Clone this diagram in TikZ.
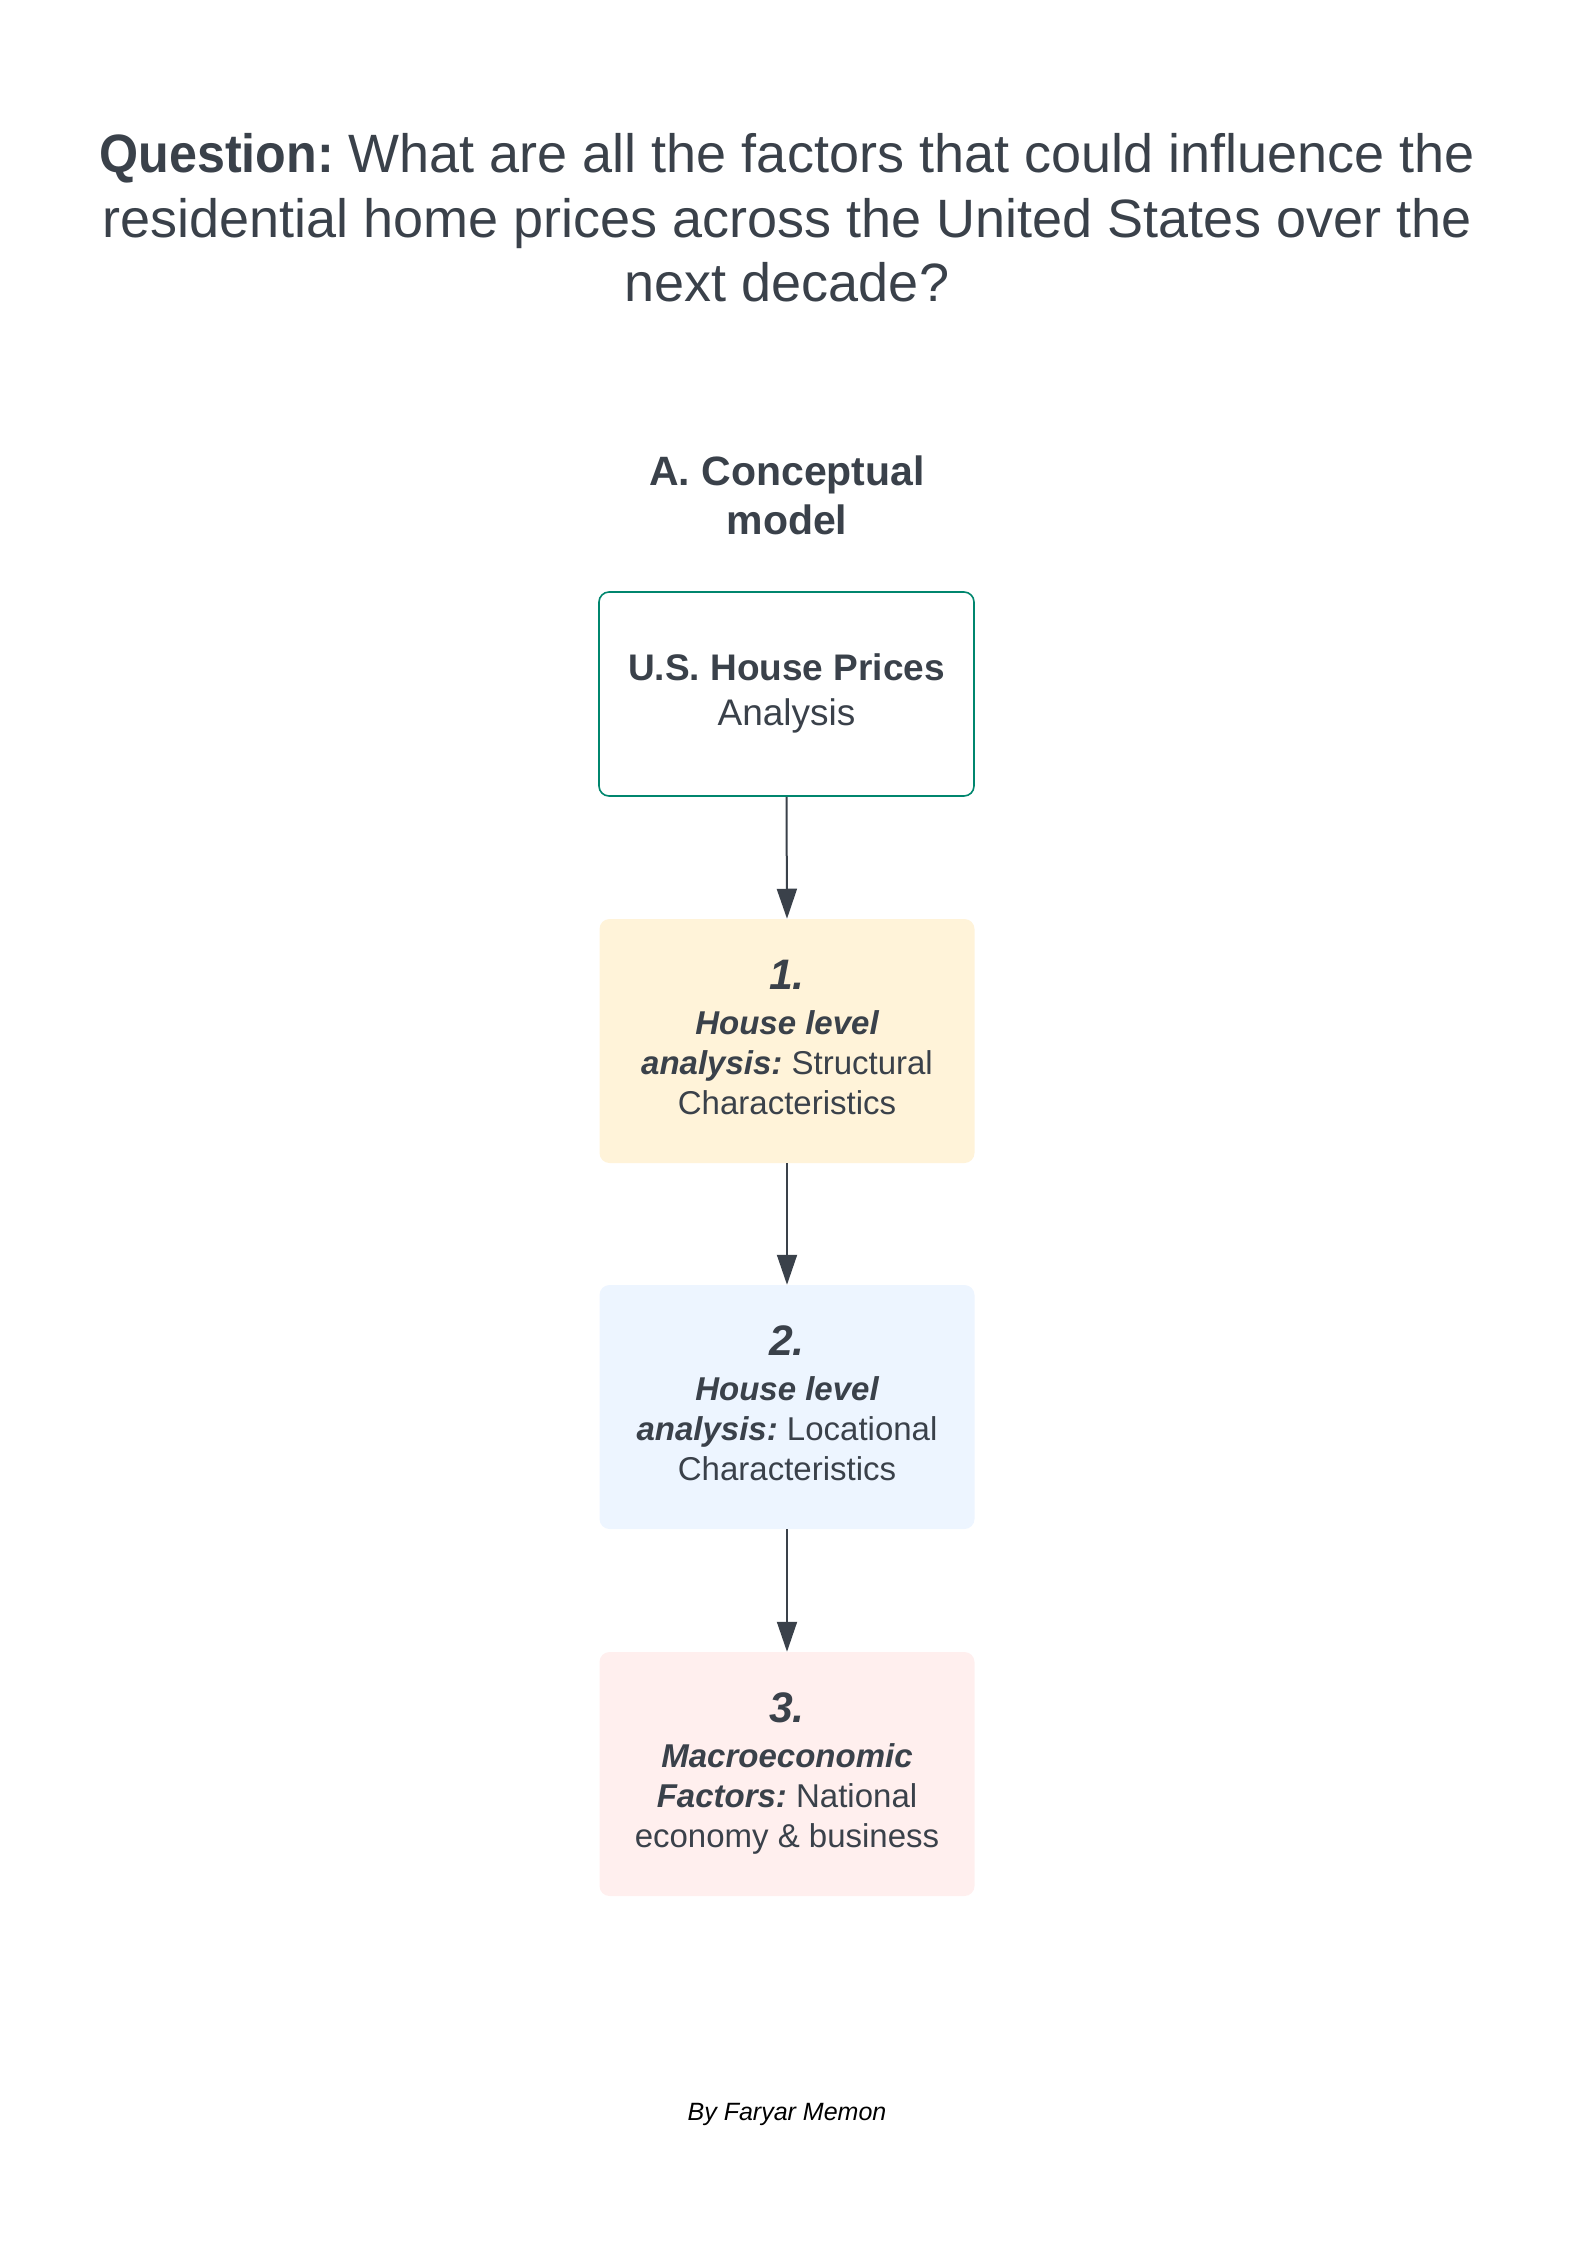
\documentclass[tikz,border=0pt]{standalone}
\usepackage{fontspec}
\setmainfont{Liberation Sans}
\usetikzlibrary{arrows.meta}
\frenchspacing
\definecolor{txt}{HTML}{3A414A}
\definecolor{tealb}{HTML}{00866E}
\definecolor{yelf}{HTML}{FFF3D9}
\definecolor{bluf}{HTML}{EDF5FF}
\definecolor{pinf}{HTML}{FFEFEE}
\tikzset{
  px/.style={x=0.75pt,y=-0.75pt},
  box/.style={rounded corners=7.5pt, minimum width=281.25pt, minimum height=183pt,
    inner sep=0pt, align=center, text=txt},
  stagebox/.style={box, draw=none, font=\fontsize{24.75}{30}\selectfont},
  conn/.style={draw=txt, line width=1.5pt, -{Triangle[length=22.5pt,width=15pt]}},
}
\newcommand{\stagenum}[1]{{\fontsize{32}{30}\selectfont\bfseries\itshape #1}\\[3.75pt]}
\newcommand{\bi}[1]{{\bfseries\itshape #1}}
\begin{document}
\frenchspacing
\begin{tikzpicture}[px]
\useasboundingbox (0,0) rectangle (1575,2250);
\node[text=txt, align=center, font=\fontsize{40.5}{48.5}\selectfont\frenchspacing] (title) at (787,218)
  {{\bfseries\addfontfeatures{FakeStretch=0.93}Question:} What are all the factors that could influence the\\
   residential home prices across the United States over the\\
   next decade?};
\node[text=txt, align=center, font=\fontsize{30.75}{36.6}\selectfont\bfseries] (sub) at (787,495)
  {A. Conceptual\\model};
\node[box, draw=tealb, line width=1.2pt, minimum height=153pt, fill=white] (top) at (786.5,694) {};
\node[text=txt, align=center, inner sep=0pt, font=\fontsize{27.75}{33.75}\selectfont] (toptext) at (786.5,693)
  {\textbf{U.S. House Prices}\\Analysis};
\node[stagebox, fill=yelf, text depth=6pt] (s1) at (787,1041)
  {\stagenum{1.}\bi{House level}\\\bi{analysis:} Structural\\Characteristics};
\node[stagebox, fill=bluf, text depth=6pt] (s2) at (787,1407)
  {\stagenum{2.}\bi{House level}\\\bi{analysis:} Locational\\Characteristics};
\node[stagebox, fill=pinf] (s3) at (787,1774)
  {\stagenum{3.}\bi{Macroeconomic}\\\bi{Factors:} National\\economy \& business};
\draw[conn] (top.south) -- (s1.north);
\draw[conn] (s1.south) -- (s2.north);
\draw[conn] (s2.south) -- (s3.north);
\node[anchor=base, font=\fontsize{18.75}{22}\selectfont\itshape, text=black] (by) at (787,2120) {By Faryar Memon};
\end{tikzpicture}
\end{document}
